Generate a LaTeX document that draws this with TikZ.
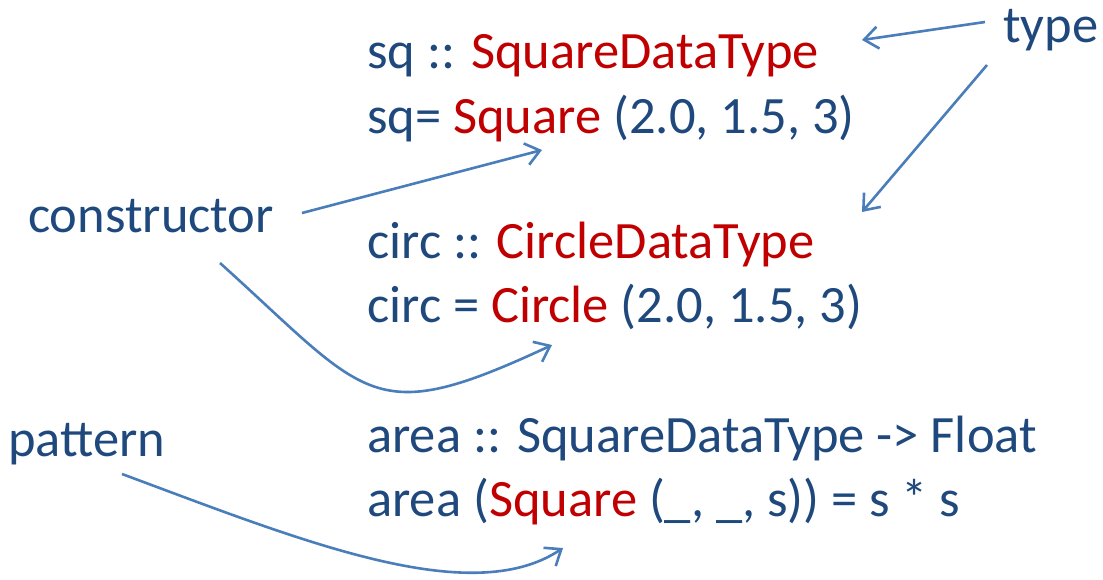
\documentclass[tikz,border=0pt]{standalone}
\usepackage{fontspec}
\setmainfont{Carlito}
\usetikzlibrary{arrows.meta}
\definecolor{codeblue}{HTML}{1F497D}
\definecolor{codered}{HTML}{C00000}
\definecolor{linkblue}{HTML}{4A7EBB}
\newcommand{\kw}[1]{\textcolor{codered}{#1}}
\tikzset{
  code/.style={anchor=base west, inner sep=0pt, text=codeblue, font=\fontsize{52.5}{60}\selectfont},
  link/.style={color=linkblue, line width=2.6pt, -{Straight Barb[length=14pt,width=22pt,line width=2.6pt]}}
}
\begin{document}
\begin{tikzpicture}[x=1pt, y=-1pt]
			\useasboundingbox (0,0) rectangle (1103,579);
			
			% code lines
			\node[code] (sqType) at (367,68) {sq :: \kw{SquareDataType}};
			\node[code] (sqVal) at (367,133) {sq= \kw{Square} (2.0, 1.5, 3)};
			
			\node[code] (circType) at (367,258) {circ :: \kw{CircleDataType}};
			\node[code] (circVal) at (367,322) {circ = \kw{Circle} (2.0, 1.5, 3)};
			
			\node[code] (areaType) at (367,452) {area :: SquareDataType -> Float};
			\node[code] (areaDef) at (367,516) {area (\kw{Square} (\_, \_, s)) = s * s};
			
			% labels
			\node[code] (labType) at (1003,42) {type};
			\node[code] (labCons) at (28,232) {constructor};
			\node[code] (labPat) at (8,456) {pattern};
			
			\coordinate (typeA) at (985,22);
			\coordinate (typeB) at (987,65);
			\coordinate (consA) at (302,213);
			\coordinate (consB) at (220,263);
			\coordinate (patA) at (122,474);
			
			\coordinate (sqTip) at (542,150);
			\coordinate (sqTypeTip) at (862,40);
			\coordinate (circTypeTip) at (862,212);
			\coordinate (circTip) at (552,345);
			\coordinate (areaTip) at (563,548);
			
			\draw[link] (typeA) -- (sqTypeTip);
			\draw[link] (typeB) -- (circTypeTip);
			\draw[link] (consA) -- (sqTip);
			\draw[link] (consB) to[out=-42, in=205, looseness=1.5] (circTip);
			\draw[link] (patA) .. controls (300,540) and (470,610) .. (areaTip);
			
\end{tikzpicture}
\end{document}
